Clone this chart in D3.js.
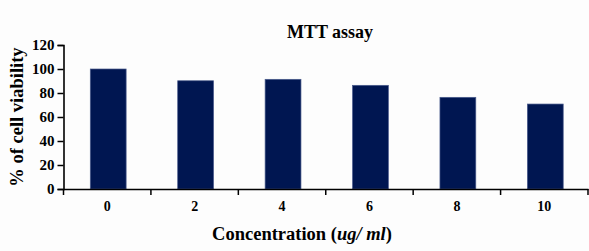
<!DOCTYPE html>
<html>
<head>
<meta charset="utf-8">
<script src="https://cdn.jsdelivr.net/npm/d3@7"></script>
<style>
  body { margin: 0; background: #fdfdfd; }
</style>
</head>
<body>
<div id="chart"></div>
<script>
let width = 589;
let height = 251;
let serif = "'Liberation Serif', 'Times New Roman', Times, 'DejaVu Serif', serif";

let concentrations = ["0", "2", "4", "6", "8", "10"];
let viability = [100, 90.2, 91.4, 86.4, 76.4, 70.8];
let yTicks = [0, 20, 40, 60, 80, 100, 120];

let margin = {top: 45, right: 1, bottom: 62, left: 63.5};

let svg = d3.select("#chart")
	.append("svg")
	.attr("width", width)
	.attr("height", height)
	.style("background-color", "#fdfdfd");

let x = d3.scaleBand()
	.domain(concentrations)
	.range([margin.left, width - margin.right])
	.paddingInner(0.59)
	.paddingOuter(0.295);

let y = d3.scaleLinear()
	.domain([0, 120])
	.range([height - margin.bottom, margin.top]);

// bars
svg.append("g")
	.selectAll("rect")
	.data(viability)
	.enter()
	.append("rect")
	.attr("x", function(d, i){ return x(concentrations[i]) + 1; })
	.attr("y", function(d){ return y(d); })
	.attr("width", x.bandwidth())
	.attr("height", function(d){ return y(0) - y(d); })
	.attr("fill", "#001651")
	.attr("stroke", "#4a5b8c")
	.attr("stroke-width", 0.7);

// y axis
let yAxis = svg.append("g")
	.attr("transform", "translate(" + margin.left + ",0)")
	.call(d3.axisLeft(y).tickValues(yTicks).tickSize(6).tickPadding(3));

yAxis.attr("font-family", null);
yAxis.selectAll("text")
	.style("font-family", serif)
	.style("font-weight", "bold")
	.style("font-size", "15px");

// x axis: labels at centres, ticks at band edges
let xAxis = svg.append("g")
	.attr("transform", "translate(0," + y(0) + ")")
	.call(d3.axisBottom(x).tickSize(0).tickPadding(12));

xAxis.attr("font-family", null);
xAxis.selectAll("text")
	.style("font-family", serif)
	.style("font-weight", "bold")
	.style("font-size", "14px");

let edges = d3.range(concentrations.length + 1).map(function(i){
	return x.range()[0] + i * x.step();
});

xAxis.selectAll(".edge")
	.data(edges)
	.enter()
	.append("line")
	.attr("class", "edge")
	.attr("x1", function(d){ return d; })
	.attr("x2", function(d){ return d; })
	.attr("y1", 0)
	.attr("y2", 6)
	.attr("stroke", "#000")
	.attr("stroke-width", 1.5);

svg.selectAll(".domain").attr("stroke", "#000").attr("stroke-width", 1.6);
svg.selectAll(".tick line").attr("stroke", "#000").attr("stroke-width", 1.5);

// titles
svg.append("text")
	.attr("x", 330)
	.attr("y", 38)
	.attr("text-anchor", "middle")
	.style("font-family", serif)
	.style("font-weight", "bold")
	.style("font-size", "18px")
	.text("MTT assay");

let xLabel = svg.append("text")
	.attr("x", 302)
	.attr("y", 240)
	.attr("text-anchor", "middle")
	.style("font-family", serif)
	.style("font-weight", "bold")
	.style("font-size", "18.5px");
xLabel.append("tspan").text("Concentration (");
xLabel.append("tspan").style("font-style", "italic").text("ug/ ml");
xLabel.append("tspan").text(")");

svg.append("text")
	.attr("transform", "translate(23,117) rotate(-90)")
	.attr("text-anchor", "middle")
	.style("font-family", serif)
	.style("font-weight", "bold")
	.style("font-size", "18.5px")
	.text("% of cell viability");
</script>
</body>
</html>
